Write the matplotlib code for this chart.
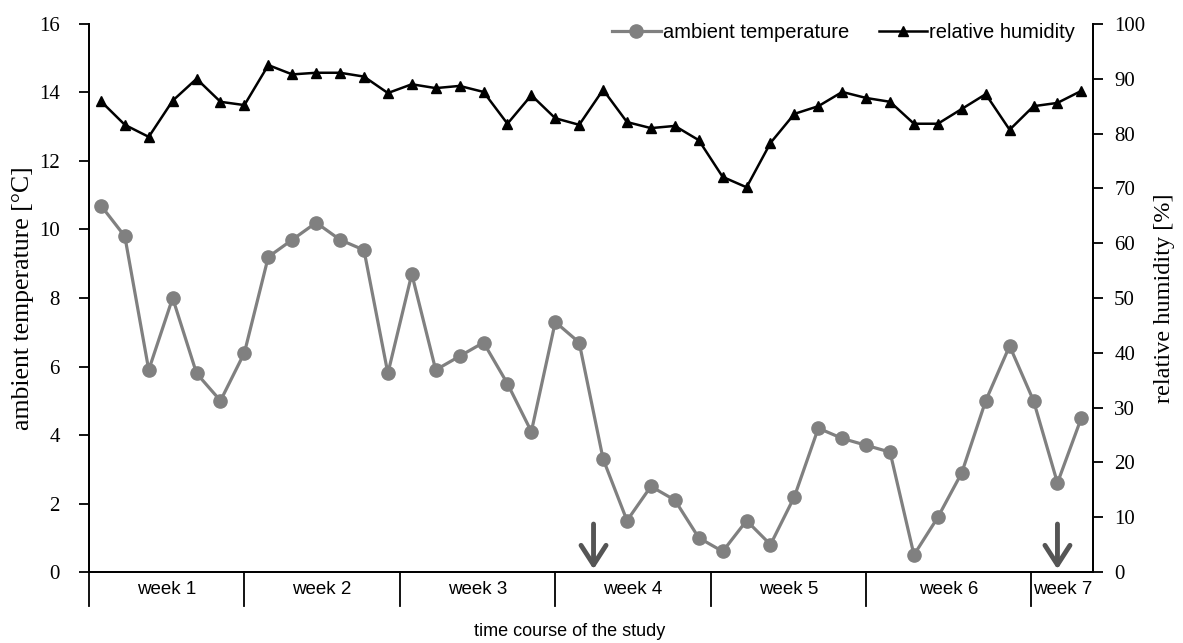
import matplotlib.pyplot as plt
import numpy as np

# daily readings, 42 days
temperature = [10.7, 9.8, 5.9, 8.0, 5.8, 5.0, 6.4, 9.2, 9.7, 10.2, 9.7, 9.4, 5.8, 8.7,
               5.9, 6.3, 6.7, 5.5, 4.1, 7.3, 6.7, 3.3, 1.5, 2.5, 2.1, 1.0, 0.6, 1.5,
               0.8, 2.2, 4.2, 3.9, 3.7, 3.5, 0.5, 1.6, 2.9, 5.0, 6.6, 5.0, 2.6, 4.5]
humidity = [85.9, 81.6, 79.4, 86.0, 90.0, 85.8, 85.2, 92.5, 90.8, 91.1, 91.1, 90.4, 87.4, 89.0,
            88.3, 88.7, 87.6, 81.8, 87.0, 82.8, 81.6, 88.0, 82.1, 81.0, 81.4, 78.8, 72.1, 70.2,
            78.3, 83.6, 85.0, 87.6, 86.5, 85.8, 81.8, 81.8, 84.5, 87.2, 80.7, 85.0, 85.6, 87.8]
week_labels = ['week 1', 'week 2', 'week 3', 'week 4', 'week 5', 'week 6', 'week 7']
week_edges = [-0.5, 6.0, 12.5, 19.0, 25.5, 32.0, 38.9, 41.5]   # in day-index units
arrow_days = [20.6, 40.0]

serif = 'Liberation Serif'
sans = 'Liberation Sans'

x = np.arange(len(temperature))

fig = plt.figure(figsize=(11.83, 6.43), dpi=100)
ax = fig.add_axes([0.0752, 0.1104, 0.849, 0.8523])
ax2 = ax.twinx()

l1, = ax.plot(x, temperature, '-o', color='#808080', lw=2.3, ms=9.5, label='ambient temperature')
l2, = ax2.plot(x, humidity, '-^', color='black', lw=1.8, ms=7.5, label='relative humidity')

ax.set_xlim(-0.5, len(x) - 0.5)
ax.set_ylim(0, 16)
ax.set_yticks(range(0, 17, 2))
ax2.set_ylim(0, 100)
ax2.set_yticks(range(0, 101, 10))

for a in (ax, ax2):
    a.spines['top'].set_visible(False)
    a.set_xticks([])
    for s in a.spines.values():
        s.set_linewidth(1.3)
ax.tick_params(axis='y', direction='out', length=7, width=1.3, labelsize=15, pad=14)
ax2.tick_params(axis='y', direction='out', length=7, width=1.3, labelsize=15, pad=8)
for lab in ax.get_yticklabels() + ax2.get_yticklabels():
    lab.set_fontfamily(serif)

ax.set_ylabel('ambient temperature [°C]', fontsize=18.5, fontfamily=serif)
ax.yaxis.set_label_coords(-0.055, 0.5)
ax2.set_ylabel('relative humidity [%]', fontsize=17.5, fontfamily=serif)
ax2.yaxis.set_label_coords(1.06, 0.5)

# week table below the axis
for e in week_edges[:-1]:
    ax.plot([e, e], [0, -1.0], color='black', lw=1.3, clip_on=False)
for i, lab in enumerate(week_labels):
    ax.text((week_edges[i] + week_edges[i + 1]) / 2, -0.5, lab, ha='center', va='center',
            fontsize=13.5, fontfamily=sans)

ax.text(19.6, -1.75, 'time course of the study', ha='center', va='center',
        fontsize=13, fontfamily=sans)

for d in arrow_days:
    ax.annotate('', xy=(d, 0.08), xytext=(d, 1.4),
                arrowprops=dict(arrowstyle='->, head_width=0.45, head_length=0.7',
                                color='#555555', lw=3.5, mutation_scale=20,
                                shrinkA=0, shrinkB=0))

leg = ax.legend(handles=[l1, l2], loc='upper right', ncol=2, frameon=False,
                bbox_to_anchor=(1.0, 1.035), handlelength=2.4, columnspacing=1.5,
                handletextpad=0.1, prop={'family': sans, 'size': 14.5})

fig.savefig('out.png', dpi=100)
